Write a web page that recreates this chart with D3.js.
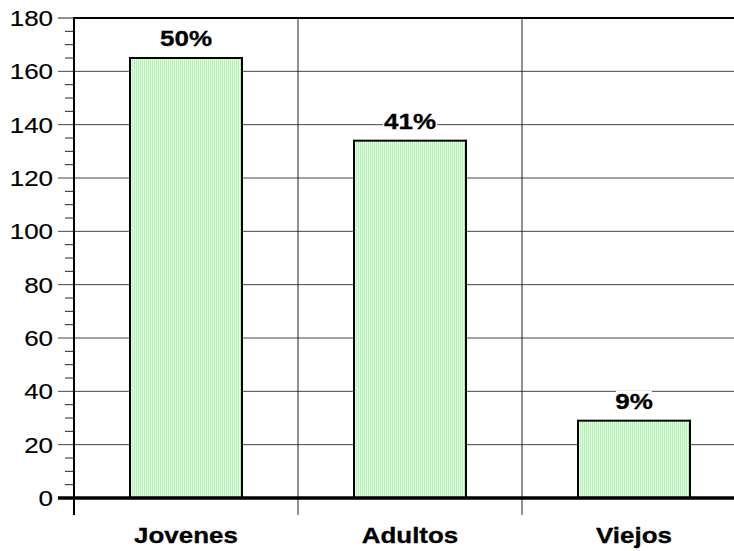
<!DOCTYPE html>
<html>
<head>
<meta charset="utf-8">
<script src="https://cdn.jsdelivr.net/npm/d3@7"></script>
<style>
  body { margin: 0; background: #fff; }
  svg { display: block; }
</style>
</head>
<body>
<div id="chart"></div>
<script>

const categories = ['Jovenes', 'Adultos', 'Viejos'];
const values = [165, 134, 29];
const percentLabels = ['50%', '41%', '9%'];
const yTicks = [0, 20, 40, 60, 80, 100, 120, 140, 160, 180];
const yMinorTicks = d3.range(0, 181, 5);

const width = 734;
const height = 551;
const plotLeft = 74;
const plotRight = 746;   // plot runs past the right edge of the picture
const plotTop = 18;
const plotBottom = 498;
const stretch = 1.18;    // text in the reference is a bit wider than it is tall

let svg = d3.select('#chart').append('svg')
  .attr('width', width)
  .attr('height', height);

// Striped green fill for the bars
let pattern = svg.append('defs').append('pattern')
  .attr('id', 'stripes')
  .attr('patternUnits', 'userSpaceOnUse')
  .attr('width', 2)
  .attr('height', 10);
pattern.append('rect').attr('width', 2).attr('height', 10).attr('fill', '#e4ffe4');
pattern.append('rect').attr('width', 1).attr('height', 10).attr('fill', '#b2f2b2');

let x = d3.scaleBand()
  .domain(categories)
  .range([plotLeft, plotRight])
  .paddingInner(0.5)
  .paddingOuter(0.25);

let y = d3.scaleLinear()
  .domain([0, 180])
  .range([plotBottom, plotTop]);

// Stretched text helper
function addText(px, py, str, size, weight, anchor) {
  svg.append('g')
    .attr('transform', 'translate(' + px + ',' + py + ') scale(' + stretch + ',1)')
    .append('text')
    .text(str)
    .attr('font-family', 'Liberation Sans, Arial, sans-serif')
    .attr('font-size', size)
    .attr('font-weight', weight)
    .attr('text-anchor', anchor)
    .attr('fill', '#000')
    .attr('stroke', '#000')
    .attr('stroke-width', weight === 'bold' ? 0.3 : 0.15);
}

// Horizontal gridlines
svg.append('g').selectAll('line')
  .data(yTicks.filter(d => d > 0 && d < 180))
  .join('line')
  .attr('x1', plotLeft - 16)
  .attr('x2', width)
  .attr('y1', d => y(d))
  .attr('y2', d => y(d))
  .attr('stroke', '#444')
  .attr('stroke-width', 1);

// Vertical category separators, running below the axis
let step = x.step();
let boundaries = categories.map(c => x(c) - (step - x.bandwidth()) / 2).concat([plotRight]);
svg.append('g').selectAll('line')
  .data(boundaries.slice(1))
  .join('line')
  .attr('x1', d => d)
  .attr('x2', d => d)
  .attr('y1', plotTop)
  .attr('y2', plotBottom + 17)
  .attr('stroke', '#222')
  .attr('stroke-width', 1);

// Minor ticks
svg.append('g').selectAll('line')
  .data(yMinorTicks.filter(d => d % 20 !== 0))
  .join('line')
  .attr('x1', plotLeft - 9)
  .attr('x2', plotLeft)
  .attr('y1', d => y(d))
  .attr('y2', d => y(d))
  .attr('stroke', '#222')
  .attr('stroke-width', 1);

// Major ticks at 0 and 180 (others are part of gridlines)
svg.append('g').selectAll('line')
  .data([0, 180])
  .join('line')
  .attr('x1', plotLeft - 16)
  .attr('x2', plotLeft)
  .attr('y1', d => y(d))
  .attr('y2', d => y(d))
  .attr('stroke', '#222')
  .attr('stroke-width', 1);

// Tick labels
for (let t of yTicks) {
  addText(plotLeft - 21, y(t) + 8, t, 22, 'normal', 'end');
}

// Bars
svg.append('g').selectAll('rect')
  .data(values)
  .join('rect')
  .attr('x', (d, i) => x(categories[i]))
  .attr('y', d => y(d))
  .attr('width', x.bandwidth())
  .attr('height', d => y(0) - y(d))
  .attr('fill', 'url(#stripes)')
  .attr('stroke', '#000')
  .attr('stroke-width', 2);

// Percent labels with white backing
values.forEach((v, i) => {
  let cx = x(categories[i]) + x.bandwidth() / 2;
  let by = y(v) - 12;
  let w = percentLabels[i].length * 18;
  svg.append('rect')
    .attr('x', cx - w / 2)
    .attr('y', by - 18)
    .attr('width', w)
    .attr('height', 20)
    .attr('fill', '#fff');
  addText(cx, by, percentLabels[i], 22, 'bold', 'middle');
});

// Y axis line, extending below the baseline
svg.append('line')
  .attr('x1', plotLeft).attr('x2', plotLeft)
  .attr('y1', plotTop).attr('y2', plotBottom + 17)
  .attr('stroke', '#000')
  .attr('stroke-width', 2);

// Top border
svg.append('line')
  .attr('x1', plotLeft - 1).attr('x2', width)
  .attr('y1', plotTop).attr('y2', plotTop)
  .attr('stroke', '#000')
  .attr('stroke-width', 2);

// Baseline
svg.append('line')
  .attr('x1', plotLeft - 16).attr('x2', width)
  .attr('y1', y(0)).attr('y2', y(0))
  .attr('stroke', '#000')
  .attr('stroke-width', 3.5);

// Category labels
for (let c of categories) {
  addText(x(c) + x.bandwidth() / 2, 543, c, 22, 'bold', 'middle');
}
</script>
</body>
</html>
